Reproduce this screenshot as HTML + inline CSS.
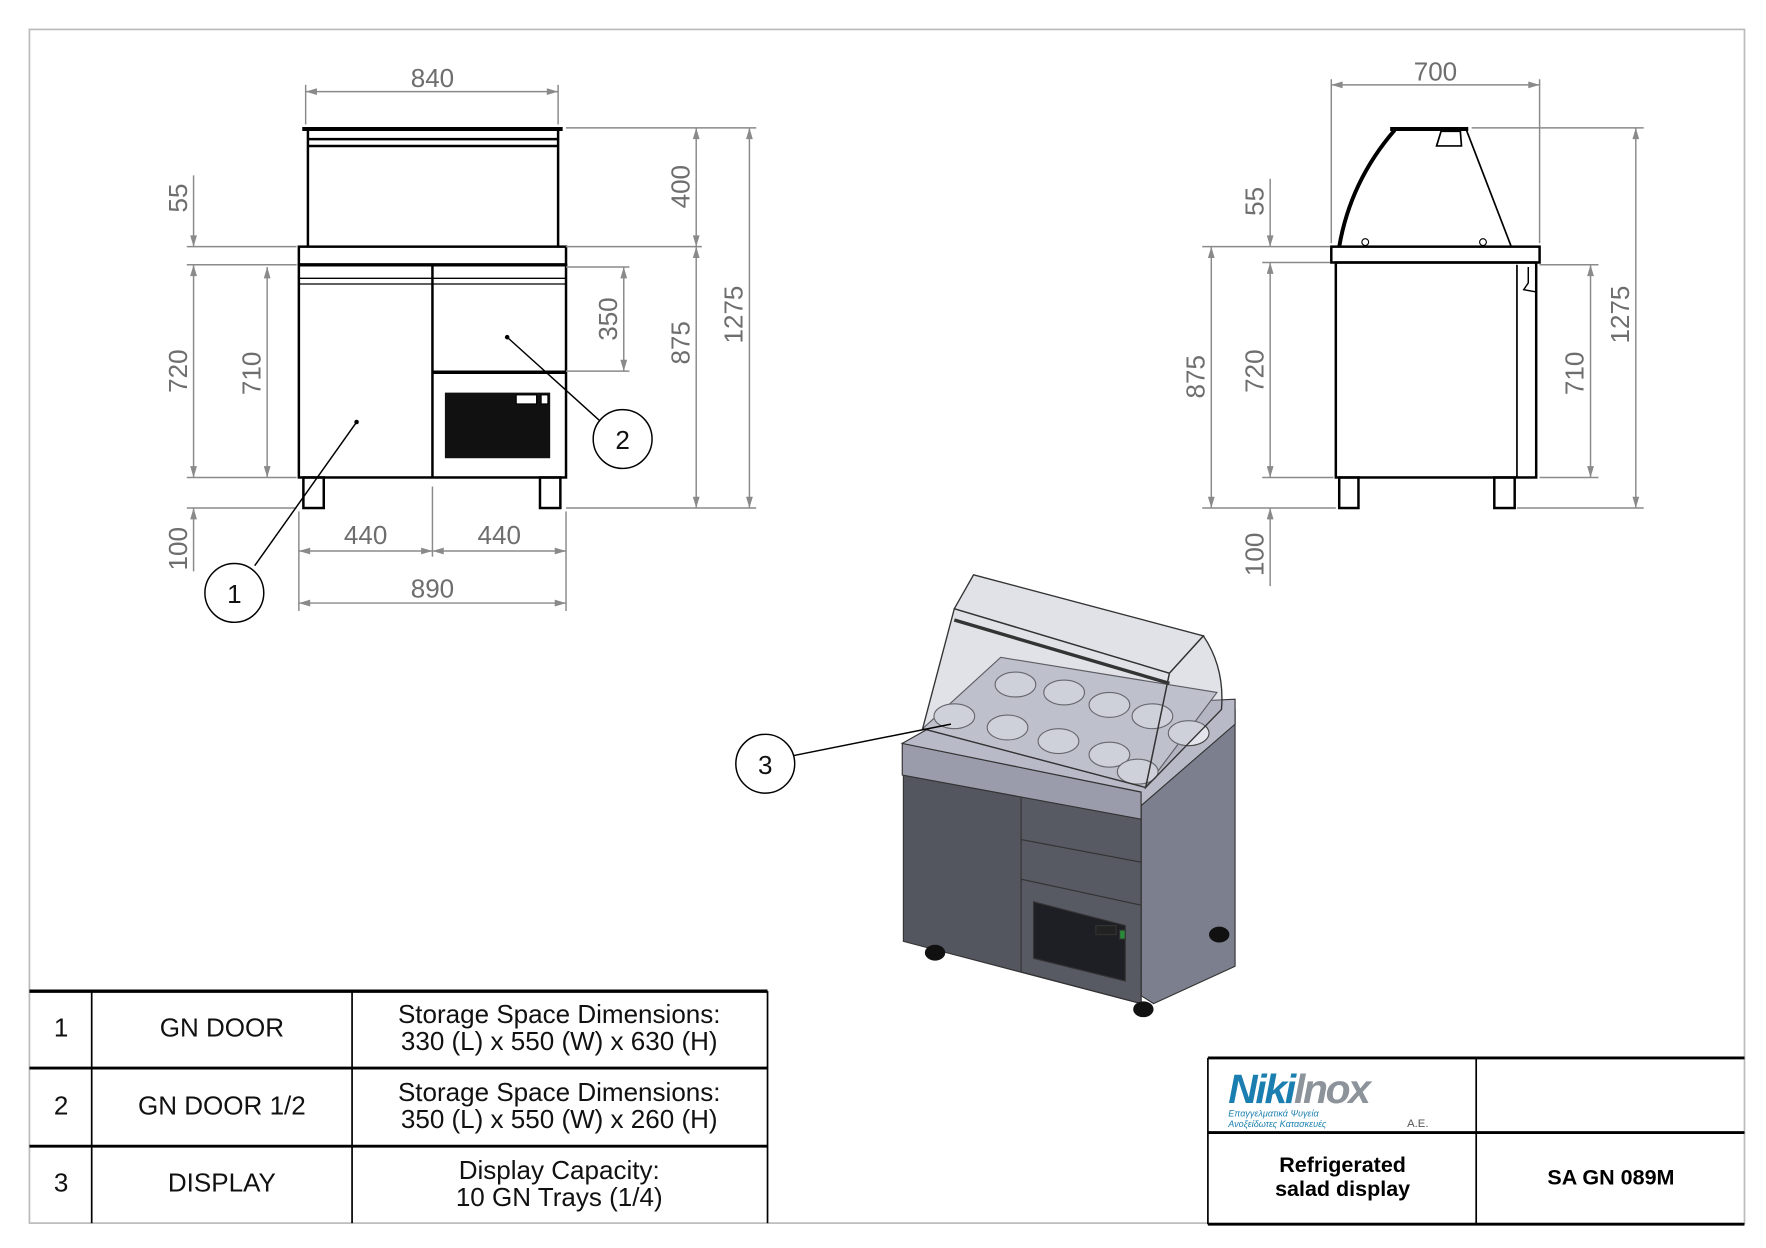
<!DOCTYPE html>
<html><head><meta charset="utf-8"><style>
html,body{margin:0;padding:0;background:#fff;}
svg{display:block;}
text{font-family:"Liberation Sans",sans-serif;}
.d{stroke:#8a8a8a;stroke-width:1.3;fill:none}
.dt{fill:#6e6e6e;font-size:23px;text-anchor:middle}
.k{stroke:#000;stroke-width:2.2;fill:none}
.t{fill:#111;font-size:23px;text-anchor:middle}
</style></head><body>
<svg width="1766" height="1248" viewBox="0 0 1560 1103" preserveAspectRatio="none" xmlns="http://www.w3.org/2000/svg">
<defs>
<marker id="a" viewBox="0 0 10 6" refX="10" refY="3" markerWidth="12" markerHeight="6" orient="auto-start-reverse" markerUnits="userSpaceOnUse"><path d="M0,0 L10,3 L0,6z" fill="#8a8a8a"/></marker>
</defs>
<rect x="26" y="26" width="1515" height="1055" fill="none" stroke="#bbb" stroke-width="1.5"/>

<!-- FRONT VIEW -->
<g class="k">
<line x1="267" y1="114" x2="497" y2="114" stroke-width="3.5"/>
<line x1="272" y1="114" x2="272" y2="218"/><line x1="493" y1="114" x2="493" y2="218"/>
<line x1="272" y1="123" x2="493" y2="123"/><line x1="272" y1="129" x2="493" y2="129"/>
<rect x="264" y="218" width="236" height="16"/>
<line x1="264" y1="234" x2="500" y2="234" stroke-width="3"/>
<rect x="264" y="234" width="236" height="188"/>
<line x1="264" y1="246" x2="500" y2="246" stroke-width="1.2"/><line x1="264" y1="251" x2="500" y2="251" stroke-width="1.2"/>
<line x1="382" y1="234" x2="382" y2="422"/>
<line x1="382" y1="329" x2="500" y2="329" stroke-width="3"/>
<rect x="268" y="422" width="18" height="27"/><rect x="477" y="422" width="18" height="27"/>
</g>
<rect x="393" y="347" width="93" height="58" fill="#111"/>
<rect x="456" y="349" width="18" height="8" fill="#fff" stroke="#000"/><rect x="478" y="349" width="6" height="8" fill="#fff" stroke="#000"/>
<g class="d">
<line x1="270" y1="81" x2="493" y2="81" marker-start="url(#a)" marker-end="url(#a)"/>
<line x1="270" y1="75" x2="270" y2="110"/><line x1="493" y1="75" x2="493" y2="110"/>
<line x1="171" y1="155" x2="171" y2="218" marker-end="url(#a)"/>
<line x1="171" y1="234" x2="171" y2="422" marker-start="url(#a)" marker-end="url(#a)"/>
<line x1="171" y1="449" x2="171" y2="505" marker-start="url(#a)"/>
<line x1="236" y1="236" x2="236" y2="422" marker-start="url(#a)" marker-end="url(#a)"/>
<line x1="165" y1="218" x2="262" y2="218"/><line x1="165" y1="234" x2="262" y2="234"/>
<line x1="165" y1="422" x2="262" y2="422"/><line x1="165" y1="449" x2="262" y2="449"/>
<line x1="500" y1="113" x2="668" y2="113"/><line x1="500" y1="218" x2="620" y2="218"/>
<line x1="500" y1="449" x2="668" y2="449"/>
<line x1="500" y1="236" x2="556" y2="236"/><line x1="500" y1="328" x2="556" y2="328"/>
<line x1="615" y1="113" x2="615" y2="218" marker-start="url(#a)" marker-end="url(#a)"/>
<line x1="615" y1="218" x2="615" y2="449" marker-start="url(#a)" marker-end="url(#a)"/>
<line x1="662" y1="113" x2="662" y2="449" marker-start="url(#a)" marker-end="url(#a)"/>
<line x1="551" y1="236" x2="551" y2="328" marker-start="url(#a)" marker-end="url(#a)"/>
<line x1="264" y1="487" x2="382" y2="487" marker-start="url(#a)" marker-end="url(#a)"/>
<line x1="382" y1="487" x2="500" y2="487" marker-start="url(#a)" marker-end="url(#a)"/>
<line x1="382" y1="430" x2="382" y2="492"/>
<line x1="264" y1="452" x2="264" y2="540"/><line x1="500" y1="452" x2="500" y2="540"/>
<line x1="264" y1="533" x2="500" y2="533" marker-start="url(#a)" marker-end="url(#a)"/>
</g>
<text class="dt" x="382" y="77">840</text>
<text class="dt" x="323" y="481">440</text><text class="dt" x="441" y="481">440</text>
<text class="dt" x="382" y="528">890</text>
<text class="dt" transform="translate(165,175) rotate(-90)">55</text>
<text class="dt" transform="translate(165,328) rotate(-90)">720</text>
<text class="dt" transform="translate(165,485) rotate(-90)">100</text>
<text class="dt" transform="translate(230,330) rotate(-90)">710</text>
<text class="dt" transform="translate(609,165) rotate(-90)">400</text>
<text class="dt" transform="translate(609,303) rotate(-90)">875</text>
<text class="dt" transform="translate(656,278) rotate(-90)">1275</text>
<text class="dt" transform="translate(545,282) rotate(-90)">350</text>
<g stroke="#000" stroke-width="1.3" fill="#fff">
<line x1="225" y1="500" x2="315" y2="373"/><circle cx="207" cy="524" r="26"/>
<line x1="448" y1="298" x2="530" y2="372"/><circle cx="550" cy="388" r="26"/>
</g>
<circle cx="315" cy="373" r="2"/><circle cx="448" cy="298" r="2"/>
<text class="t" x="207" y="533">1</text><text class="t" x="550" y="397">2</text>

<!-- SIDE VIEW -->
<g class="k">
<line x1="1228" y1="114" x2="1297" y2="114" stroke-width="3.5"/>
<path d="M1232,115 Q1193,160 1183,218" stroke-width="3.5"/>
<path d="M1273,116 L1290,116 L1291,129 L1269,129z" stroke-width="1.5"/>
<line x1="1295" y1="114" x2="1335" y2="218" stroke-width="1.5"/>
<rect x="1176" y="218" width="184" height="14"/>
<rect x="1180" y="232" width="177" height="190"/>
<line x1="1340" y1="234" x2="1340" y2="422" stroke-width="1.5"/>
<path d="M1350,236 L1350,250 L1346,256 L1357,258" stroke-width="1.3"/>
<rect x="1183" y="422" width="17" height="27"/><rect x="1320" y="422" width="18" height="27"/>
</g>
<circle cx="1206" cy="214" r="3" fill="#fff" stroke="#000"/><circle cx="1310" cy="214" r="3" fill="#fff" stroke="#000"/>
<g class="d">
<line x1="1176" y1="75" x2="1360" y2="75" marker-start="url(#a)" marker-end="url(#a)"/>
<line x1="1176" y1="70" x2="1176" y2="215"/><line x1="1360" y1="70" x2="1360" y2="215"/>
<line x1="1122" y1="158" x2="1122" y2="218" marker-end="url(#a)"/>
<line x1="1122" y1="232" x2="1122" y2="422" marker-start="url(#a)" marker-end="url(#a)"/>
<line x1="1122" y1="449" x2="1122" y2="518" marker-start="url(#a)"/>
<line x1="1070" y1="218" x2="1070" y2="449" marker-start="url(#a)" marker-end="url(#a)"/>
<line x1="1405" y1="234" x2="1405" y2="422" marker-start="url(#a)" marker-end="url(#a)"/>
<line x1="1445" y1="113" x2="1445" y2="449" marker-start="url(#a)" marker-end="url(#a)"/>
<line x1="1062" y1="218" x2="1175" y2="218"/><line x1="1115" y1="232" x2="1175" y2="232"/>
<line x1="1115" y1="422" x2="1178" y2="422"/><line x1="1062" y1="449" x2="1180" y2="449"/>
<line x1="1300" y1="113" x2="1452" y2="113"/><line x1="1360" y1="234" x2="1412" y2="234"/>
<line x1="1360" y1="422" x2="1412" y2="422"/><line x1="1340" y1="449" x2="1452" y2="449"/>
</g>
<text class="dt" x="1268" y="71">700</text>
<text class="dt" transform="translate(1116,178) rotate(-90)">55</text>
<text class="dt" transform="translate(1116,328) rotate(-90)">720</text>
<text class="dt" transform="translate(1116,490) rotate(-90)">100</text>
<text class="dt" transform="translate(1064,333) rotate(-90)">875</text>
<text class="dt" transform="translate(1399,330) rotate(-90)">710</text>
<text class="dt" transform="translate(1439,278) rotate(-90)">1275</text>

<!-- 3D VIEW -->
<g stroke="#333" stroke-width="1">
<polygon points="1008,712 1091,628 1091,854 1019,887 1008,880" fill="#7c7f8e"/>
<polygon points="798,685 1008,724 1008,887 798,832" fill="#54565f"/>
<polygon points="902,697 1008,716 1008,887 902,859" fill="#575963"/>
<line x1="902" y1="742" x2="1008" y2="762"/>
<line x1="902" y1="777" x2="1008" y2="800"/>
<polygon points="913,797 994,818 994,867 913,847" fill="#1e1f24"/>
<rect x="968" y="818" width="18" height="8" fill="#222"/>
<rect x="989" y="822" width="5" height="8" fill="#2a8a3a"/>
<polygon points="797,657 1008,700 1008,724 797,685" fill="#9a9cab"/>
<polygon points="797,657 845,630 1091,618 1091,640 1008,712 1008,700" fill="#b8bac8"/>
<polygon points="815,644 884,581 1075,612 1012,696" fill="#c9cbd6"/>
</g>
<g fill="#e4e5ec" stroke="#444" stroke-width="1">
<ellipse cx="843" cy="633" rx="18" ry="11"/><ellipse cx="890" cy="643" rx="18" ry="11"/><ellipse cx="935" cy="655" rx="18" ry="11"/><ellipse cx="980" cy="667" rx="18" ry="11"/><ellipse cx="1005" cy="682" rx="18" ry="11"/>
<ellipse cx="897" cy="605" rx="18" ry="11"/><ellipse cx="940" cy="612" rx="18" ry="11"/><ellipse cx="980" cy="623" rx="18" ry="11"/><ellipse cx="1018" cy="633" rx="18" ry="11"/><ellipse cx="1050" cy="648" rx="18" ry="11"/>
</g>
<g stroke="#333" stroke-width="1.2" fill="rgba(170,172,185,0.35)">
<polygon points="843,538 860,508 1063,562 1033,595"/>
<path d="M1063,562 Q1082,590 1079,627 L1012,696 L1033,595z"/>
<polygon points="843,538 1033,595 1012,696 815,644"/>
</g>
<line x1="843" y1="548" x2="1033" y2="604" stroke="#333" stroke-width="3"/>
<g fill="#111"><ellipse cx="826" cy="842" rx="9" ry="7"/><ellipse cx="1077" cy="826" rx="9" ry="7"/><ellipse cx="1010" cy="892" rx="9" ry="7"/></g>
<line x1="700" y1="668" x2="840" y2="640" stroke="#000" stroke-width="1.3"/>
<circle cx="676" cy="675" r="26" fill="#fff" stroke="#000" stroke-width="1.3"/>
<text class="t" x="676" y="684">3</text>

<!-- TABLE -->
<g stroke="#000" fill="none">
<line x1="26" y1="876" x2="678" y2="876" stroke-width="3"/>
<line x1="26" y1="944" x2="678" y2="944" stroke-width="2.5"/>
<line x1="26" y1="1013" x2="678" y2="1013" stroke-width="2.5"/>
<line x1="81" y1="876" x2="81" y2="1081" stroke-width="1.5"/>
<line x1="311" y1="876" x2="311" y2="1081" stroke-width="1.5"/>
<line x1="678" y1="876" x2="678" y2="1081" stroke-width="1.5"/>
</g>
<text class="t" x="54" y="916">1</text><text class="t" x="196" y="916">GN DOOR</text>
<text class="t" x="494" y="904">Storage Space Dimensions:</text><text class="t" x="494" y="928">330 (L) x 550 (W) x 630 (H)</text>
<text class="t" x="54" y="985">2</text><text class="t" x="196" y="985">GN DOOR 1/2</text>
<text class="t" x="494" y="973">Storage Space Dimensions:</text><text class="t" x="494" y="997">350 (L) x 550 (W) x 260 (H)</text>
<text class="t" x="54" y="1053">3</text><text class="t" x="196" y="1053">DISPLAY</text>
<text class="t" x="494" y="1042">Display Capacity:</text><text class="t" x="494" y="1066">10 GN Trays (1/4)</text>

<!-- TITLE BLOCK -->
<g stroke="#000" fill="none">
<line x1="1067" y1="935" x2="1541" y2="935" stroke-width="2.5"/>
<line x1="1067" y1="1001" x2="1541" y2="1001" stroke-width="2.5"/>
<line x1="1067" y1="1082" x2="1541" y2="1082" stroke-width="2.5"/>
<line x1="1067" y1="935" x2="1067" y2="1082" stroke-width="1.5"/>
<line x1="1304" y1="935" x2="1304" y2="1082" stroke-width="1.5"/>
</g>
<text x="1085" y="975" style="font-size:36px;font-weight:bold;font-style:italic;fill:#1a7fb0;letter-spacing:-2px">Niki<tspan fill="#8d939a">lnox</tspan></text>
<text x="1085" y="987" style="font-size:8px;font-style:italic;fill:#1a7fb0">Επαγγελματικά Ψυγεία</text>
<text x="1085" y="996" style="font-size:8px;font-style:italic;fill:#1a7fb0">Ανοξείδωτες Κατασκευές</text>
<text x="1243" y="996" style="font-size:10px;fill:#555">A.E.</text>
<text x="1186" y="1036" style="font-size:19px;font-weight:bold;text-anchor:middle;fill:#000">Refrigerated</text>
<text x="1186" y="1057" style="font-size:19px;font-weight:bold;text-anchor:middle;fill:#000">salad display</text>
<text x="1423" y="1047" style="font-size:19px;font-weight:bold;text-anchor:middle;fill:#000">SA GN 089M</text>
</svg>
</body></html>
